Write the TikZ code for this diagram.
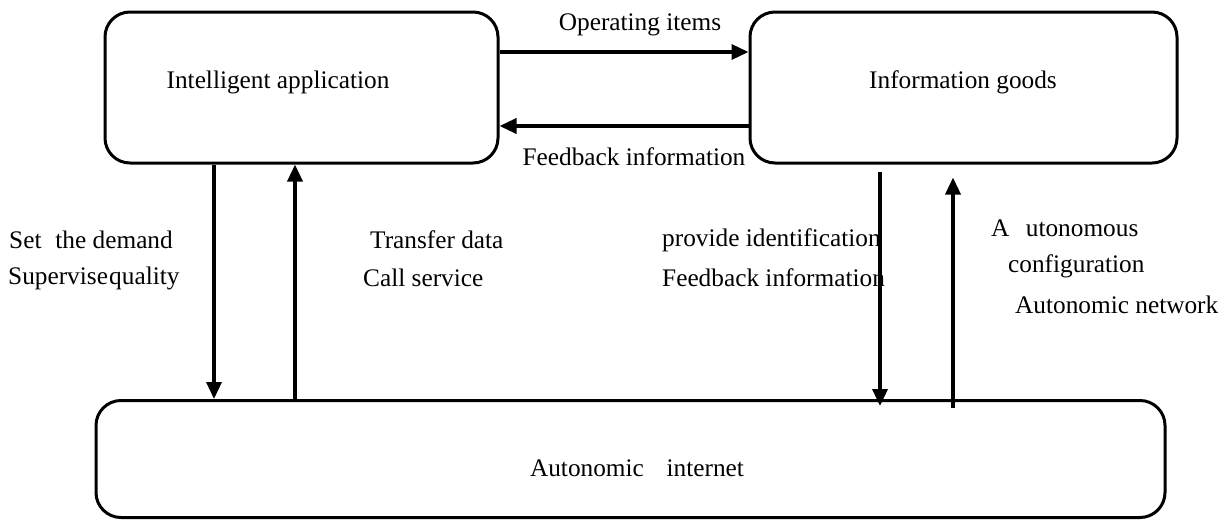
\documentclass[tikz,border=0pt]{standalone}
\usepackage{fontspec}
\setmainfont{Liberation Serif}
\usetikzlibrary{arrows.meta}
\begin{document}
\begin{tikzpicture}[x=1pt,y=-1pt,
  box/.style={draw, line width=3pt, rounded corners=25pt, inner sep=0pt},
  arr/.style={line width=3.4pt, -{Triangle[length=17pt,width=15pt]}},
  txt/.style={inner sep=0pt, font=\fontsize{25.3}{29}\selectfont},
  ltxt/.style={txt, anchor=west}]
\useasboundingbox (0,0) rectangle (1222,525);
\node[box, minimum width=393pt, minimum height=151pt] (ia) at (301.5,87.5) {};
\node[box, minimum width=427pt, minimum height=151pt] (ig) at (963.5,87.5) {};
\node[box, minimum width=1069pt, minimum height=117pt] (ai) at (630.5,459) {};
\node[txt] (t1) at (278,82) {Intelligent application};
\node[txt] (t2) at (963,82) {Information goods};
\node[txt] (t3) at (637,468) {Autonomic\hspace{0.9em}internet};
\coordinate (y1) at (0,52);
\coordinate (y2) at (0,126);
\coordinate (x1) at (214,0);
\coordinate (x2) at (295,0);
\coordinate (x3) at (880,172);
\coordinate (x4) at (953,408);
\draw[arr] (ia.east |- y1) -- (ig.west |- y1);
\draw[arr] (ig.west |- y2) -- (ia.east |- y2);
\draw[arr] (ia.south -| x1) -- (ai.north -| x1);
\draw[arr] (ai.north -| x2) -- (ia.south -| x2);
\draw[arr] (x3) -- ([yshift=-7pt]ai.north -| x3);
\draw[arr] (x4) -- ([yshift=-13pt]ig.south -| x4);
\node[txt] (l1) at (640,25) {Operating items};
\node[txt] (l2) at (634,157) {Feedback information};
\node[ltxt] (l3) at (9,240) {Set\hspace{0.3em} the demand};
\node[ltxt] (l4) at (8,278) {Supervise\hspace{0.05em}quality};
\node[ltxt] (l5) at (370,240) {Transfer data};
\node[ltxt] (l6) at (363,278) {Call service};
\node[ltxt] (l7) at (662,240) {provide identification};
\node[ltxt] (l8) at (662,278) {Feedback information};
\node[ltxt] (l9) at (991,228) {A\hspace{0.4em} utonomous};
\node[ltxt] (l10) at (1008,266) {configuration};
\node[ltxt] (l11) at (1015,305) {Autonomic network};
\end{tikzpicture}
\end{document}
